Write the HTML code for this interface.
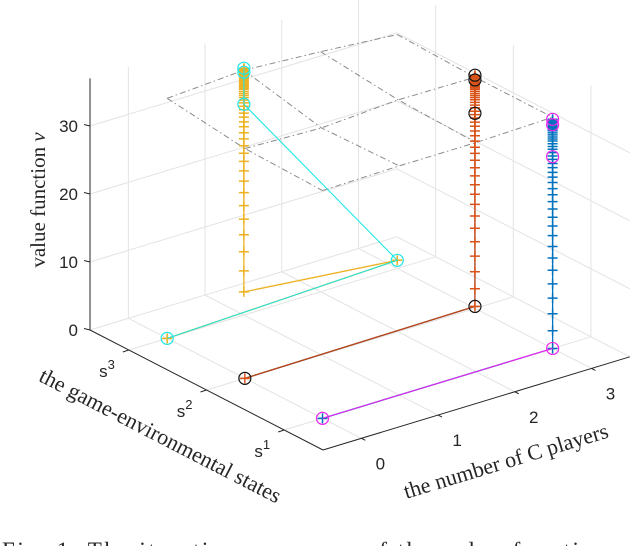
<!DOCTYPE html>
<html><head><meta charset="utf-8"><style>
body{margin:0;background:#fff;}
svg{display:block;}
text{font-family:"Liberation Sans",sans-serif;fill:#262626;}
.serif{font-family:"Liberation Serif",serif;}
</style></head><body>
<svg id="chart" width="632" height="546" viewBox="0 0 632 546" xmlns="http://www.w3.org/2000/svg">
<g id="grid"></g>
<g id="surface"></g>
<g id="axes"></g>
<g id="series"></g>
<text class="serif" x="0" y="0" font-size="21" text-anchor="middle" transform="translate(45,200) rotate(-90)">value function <tspan font-style="italic">v</tspan></text>
<text class="serif" x="0" y="0" font-size="22" text-anchor="middle" transform="translate(157,442) rotate(27.3)">the game-environmental states</text>
<text class="serif" x="0" y="0" font-size="22" text-anchor="middle" transform="translate(508,468) rotate(-16.9)">the number of C players</text>
<text class="serif" x="2" y="558" font-size="23" textLength="605" lengthAdjust="spacing">Fig. 1: The iterative processes of the value function</text>
</svg>
<script>
const zTicks=[0,10,20,30];
const nTicks=[0,1,2,3];
const sTicks=[1,2,3];
const sLabels=["1","2","3"];
// surface mesh v values: rows s=3,2,1 ; columns n=0..3
const surfS=[3,2,1];
const surfV=[[35.3,36.0,35.3,34.4],[33.8,33.4,34.1,34.0],[33.5,33.7,33.7,34.0]];
// iteration columns
const yellowCol=[3.4,6.5,9.3,11.8,14.1,16.1,18.0,19.7,21.2,22.6,23.8,24.9,25.9,26.8,27.7,28.4,29.1,29.7,30.2,30.7,31.2,31.6,32.0,32.3,32.6,32.9,33.2,33.4,33.6,33.8,34.0,34.2,34.4,34.6,34.8,35.0,35.2,35.4,35.6,35.8,36.0,36.1,36.2,36.3];
const orangeCol=[0.3,2.9,5.4,7.7,9.8,11.8,13.6,15.3,16.8,18.2,19.5,20.7,21.8,22.8,23.7,24.6,25.4,26.1,26.8,27.4,28.0,28.5,29.0,29.5,29.9,30.3,30.7,31.0,31.3,31.6,31.9,32.2,32.4,32.6,32.8,33.0,33.2,33.4,33.6,33.8,34.0,34.1,34.2,34.3];
const blueCol=[0.0,2.6,5.1,7.4,9.5,11.5,13.3,15.0,16.6,18.0,19.3,20.5,21.6,22.6,23.5,24.4,25.2,25.9,26.6,27.2,27.8,28.3,28.8,29.3,29.7,30.1,30.5,30.8,31.1,31.4,31.7,32.0,32.2,32.4,32.6,32.8,33.0,33.2,33.4,33.5,33.6,33.7];
// path points [n, s, v]
const yellowPre=[[0,3,0],[3,3,1.2]];
const orangePre=[[0,2,0]];
const bluePre=[[0,1,0]];
const cyanPts=[[0,3,0],[3,3,1.2],[1,3,31.0],[1,3,35.7],[1,3,36.3]];
const blackPts=[[0,2,0],[3,2,0.3],[3,2,28.7],[3,2,33.6],[3,2,34.3]];
const magentaPts=[[0,1,0],[3,1,0],[3,1,28.2],[3,1,32.9],[3,1,33.7]];

const NS="http://www.w3.org/2000/svg";
function P(n,s,v){
  const fs=(s-0.5)/3, fn=(n+0.5);
  return [323-233*fs+76.7*fn, 450-120*fs-23.3*fn-6.8*v];
}
function mk(tag,parent,attrs){const e=document.createElementNS(NS,tag);for(const k in attrs)e.setAttribute(k,attrs[k]);parent.appendChild(e);return e;}
function line(parent,a,b,stroke,w){return mk('line',parent,{x1:a[0],y1:a[1],x2:b[0],y2:b[1],stroke:stroke,'stroke-width':w});}

const G=document.getElementById('grid');
const gc="#e3e3e3";
const zMax=37;
nTicks.forEach(n=>{
  let l=line(G,P(n,0.5,0),P(n,3.5,0),gc,1);
  
  
  l=line(G,P(n,3.5,0),P(n,3.5,zMax),gc,1);
  
  
});
sTicks.forEach(s=>{
  let l=line(G,P(-0.5,s,0),P(3.5,s,0),gc,1);
  
  
  l=line(G,P(3.5,s,0),P(3.5,s,zMax),gc,1);
  
  
});
zTicks.forEach(z=>{
  let l=line(G,P(-0.5,3.5,z),P(3.5,3.5,z),gc,1);
  
  
  l=line(G,P(3.5,3.5,z),P(3.5,0.5,z),gc,1);
  
  
});

const S=document.getElementById('surface');
function pl(parent,pts,stroke,w,dash){return mk('polyline',parent,{points:pts.map(p=>p.join(',')).join(' '),fill:'none',stroke:stroke,'stroke-width':w,'stroke-dasharray':dash||'none'});}
surfS.forEach((s,r)=>{
  const pts=surfV[r].map((v,c)=>P(c,s,v));
  const e=pl(S,pts,'#8c8c8c',1,'6,3,1.5,3');
  
  
});
nTicks.forEach((n,c)=>{
  const pts=surfS.map((s,r)=>P(n,s,surfV[r][c]));
  const e=pl(S,pts,'#8c8c8c',1,'6,3,1.5,3');
  
  
});

const A=document.getElementById('axes');
const ax="#262626";
let e=line(A,P(-0.5,3.5,0),P(-0.5,3.5,zMax),ax,1);


e=line(A,P(-0.5,3.5,0),P(-0.5,0.5,0),ax,1);


e=line(A,P(-0.5,0.5,0),P(3.5,0.5,0),ax,1);


zTicks.forEach(z=>{
  const p=P(-0.5,3.5,z);
  line(A,[p[0]-6,p[1]-1.5],p,ax,1);
  const t=mk('text',A,{x:p[0]-12,y:p[1]+6,'font-size':17,'text-anchor':'end'});
  t.textContent=z;
  
  
});
nTicks.forEach(n=>{
  const p=P(n,0.5,0);
  line(A,p,[p[0]+4,p[1]+2],ax,1);
  const t=mk('text',A,{x:p[0]+19,y:p[1]+31,'font-size':17,'text-anchor':'middle'});
  t.textContent=n;
  
  
});
sTicks.forEach((s,i)=>{
  const p=P(-0.5,s,0);
  line(A,p,[p[0]-6,p[1]+2],ax,1);
  const t=mk('text',A,{x:p[0]-14,y:p[1]+27,'font-size':17,'text-anchor':'end'});
  t.textContent='s';
  const sp=mk('tspan',t,{dy:-8,'font-size':13});
  sp.textContent=sLabels[i];
  
  
});

const R=document.getElementById('series');
function plus(g,p,c){
  mk('path',g,{d:`M${p[0]-5},${p[1]}h10M${p[0]},${p[1]-5}v10`,stroke:c,'stroke-width':1.5,fill:'none'});
}
function grp(name){const g=mk('g',R,{});return g;}
function plusSeries(name,pre,n,s,col,color,lineColor){
  const g=grp(name);
  const pts=pre.map(q=>P(q[0],q[1],q[2])).concat(col.map(v=>P(n,s,v)));
  const ln=pl(g,pts,lineColor,1.3);
  
  
  pts.forEach(p=>plus(g,p,color));
}
function circLine(name,pts,color){
  const g=grp(name+'-path');
  const ln=pl(g,pts.map(q=>P(q[0],q[1],q[2])),color,1.1);
  
  
}
function circMarks(name,pts,color){
  const g=grp(name+'-markers');
  pts.map(q=>P(q[0],q[1],q[2])).forEach(p=>{
    const c=mk('circle',g,{cx:p[0],cy:p[1],r:6,fill:'none',stroke:color,'stroke-width':1.2});
    
    
  });
}
circLine('s2-optimal',blackPts,'#111111');
plusSeries('s3-iterations',yellowPre,1,3,yellowCol,'#EDB120','#EDB120');
plusSeries('s2-iterations',orangePre,3,2,orangeCol,'#D95319','#B8461A');
plusSeries('s1-iterations',bluePre,3,1,blueCol,'#0072BD','#0072BD');
circLine('s3-optimal',cyanPts,'#1EE6E6');
circLine('s1-optimal',magentaPts.slice(0,2),'#EE22EE');
circMarks('s3-optimal',cyanPts,'#1EE6E6');
circMarks('s2-optimal',blackPts,'#111111');
circMarks('s1-optimal',magentaPts,'#EE22EE');
</script>
</body></html>
